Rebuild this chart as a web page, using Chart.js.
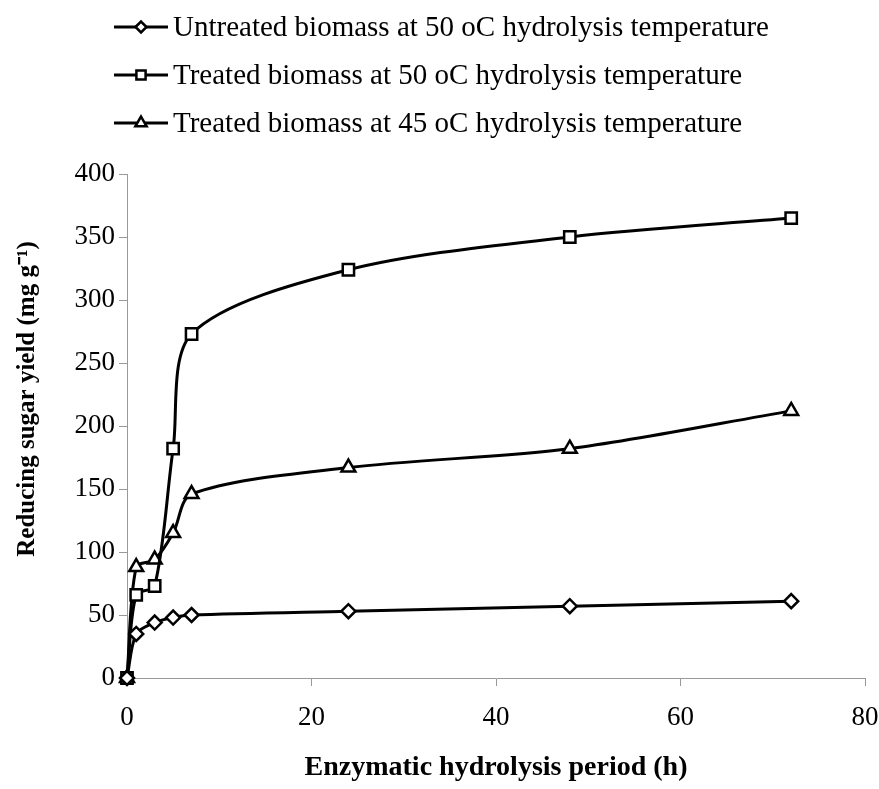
<!DOCTYPE html>
<html>
<head>
<meta charset="utf-8">
<script src="https://cdn.jsdelivr.net/npm/chart.js@4"></script>
<style>
  body { margin: 0; background: #fff; }
  #wrap { width: 879px; height: 789px; }
</style>
</head>
<body>
<div id="wrap"><canvas id="myChart"></canvas></div>
<script>
const hours = [0, 1, 3, 5, 7, 24, 48, 72]
const untreated50 = [0, 35, 44, 48, 50, 53, 57, 61]
const treated50 = [0, 66, 73, 182, 273, 324, 350, 365]
const treated45 = [0, 88, 94, 115, 146, 167, 182, 212]

const labels = [
    'Untreated biomass at 50 oC hydrolysis temperature',
    'Treated biomass at 50 oC hydrolysis temperature',
    'Treated biomass at 45 oC hydrolysis temperature'
]
const xTicks = [0, 20, 40, 60, 80]
const yTicks = [0, 50, 100, 150, 200, 250, 300, 350, 400]

const serif = "'Liberation Serif', 'Times New Roman', serif"

function makeSet(label, values, style, radius) {
    return {
        label: label,
        data: values.map((v, i) => ({ x: hours[i], y: v })),
        borderColor: '#000',
        borderWidth: 3,
        backgroundColor: '#fff',
        pointStyle: style,
        pointRadius: radius,
        pointBorderWidth: 2.5,
        pointBackgroundColor: '#fff',
        pointBorderColor: '#000',
        tension: 0.3,
        clip: false
    }
}

// legend drawn by hand, one entry per row like the original
const stackLegend = {
    id: 'stackLegend',
    afterDraw(chart) {
        const c = chart.ctx
        c.save()
        chart.data.datasets.forEach((ds, i) => {
            const y = 27 + i * 48
            c.strokeStyle = '#000'
            c.lineWidth = 3
            c.beginPath()
            c.moveTo(114, y)
            c.lineTo(168, y)
            c.stroke()
            c.fillStyle = '#fff'
            c.lineWidth = 2.5
            Chart.helpers.drawPoint(c, { pointStyle: ds.pointStyle, radius: ds.pointRadius - 1.5, rotation: 0 }, 141, y)
            c.fill()
            c.stroke()
            c.fillStyle = '#000'
            c.font = '29px ' + serif
            c.textBaseline = 'middle'
            c.fillText(ds.label, 173, y + 1)
        })
        c.restore()
    }
}

// y title sits a little above the middle of the axis in the original
const yTitle = {
    id: 'yTitle',
    afterDraw(chart) {
        const c = chart.ctx
        c.save()
        c.translate(28, 399)
        c.rotate(-Math.PI / 2)
        c.fillStyle = '#000'
        c.font = 'bold 25px ' + serif
        c.textAlign = 'center'
        c.textBaseline = 'middle'
        c.fillText('Reducing sugar yield (mg g⁻¹)', 0, 0)
        c.restore()
    }
}

const ctx = document.getElementById('myChart').getContext('2d')
const myChart = new Chart(ctx, {
    type: 'line',
    data: {
        datasets: [
            makeSet(labels[0], untreated50, 'rectRot', 7),
            makeSet(labels[1], treated50, 'rect', 8),
            makeSet(labels[2], treated45, 'triangle', 8)
        ]
    },
    options: {
        responsive: true,
        maintainAspectRatio: false,
        animation: false,
        layout: { padding: { top: 174, right: 14, left: 0, bottom: 4 } },
        plugins: {
            legend: { display: false },
            tooltip: { enabled: false }
        },
        scales: {
            x: {
                type: 'linear',
                min: 0,
                max: 80,
                afterBuildTicks: axis => { axis.ticks = xTicks.map(v => ({ value: v })) },
                afterFit: axis => { axis.height = 107; axis.paddingRight = 0; axis.paddingLeft = 0 },
                border: { color: '#999', width: 1 },
                grid: { drawOnChartArea: false, color: '#999', tickLength: 8 },
                ticks: { color: '#000', padding: 16, maxRotation: 0, font: { family: serif, size: 27 } },
                title: {
                    display: true,
                    text: 'Enzymatic hydrolysis period (h)',
                    color: '#000',
                    padding: { top: 0, bottom: 0 },
                    font: { family: serif, size: 28, weight: 'bold' }
                }
            },
            y: {
                min: 0,
                max: 400,
                afterBuildTicks: axis => { axis.ticks = yTicks.map(v => ({ value: v })) },
                afterFit: axis => { axis.width = 127; axis.paddingTop = 0; axis.paddingBottom = 0 },
                border: { color: '#999', width: 1 },
                grid: { drawOnChartArea: false, color: '#999', tickLength: 8 },
                ticks: { color: '#000', padding: 4, font: { family: serif, size: 27 } },
                title: { display: false }
            }
        }
    },
    plugins: [stackLegend, yTitle]
})
</script>
</body>
</html>
